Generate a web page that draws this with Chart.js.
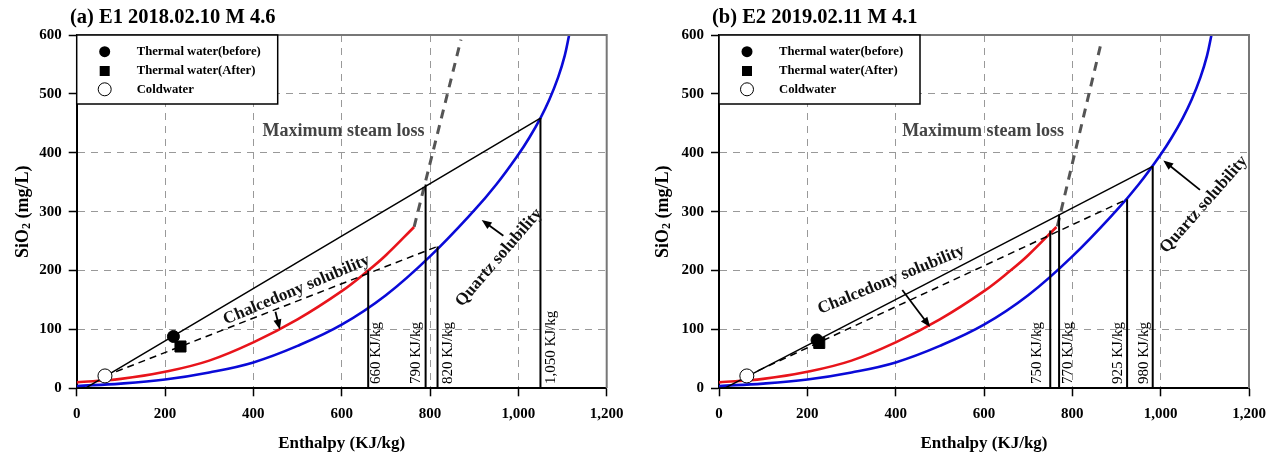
<!DOCTYPE html>
<html><head><meta charset="utf-8">
<script src="https://cdn.jsdelivr.net/npm/chart.js@4.4.0/dist/chart.umd.min.js"></script>
<style>
html,body{margin:0;padding:0;background:#fff;overflow:hidden;}
#wrap{position:relative;width:1277px;height:458px;background:#fff;}
canvas{position:absolute;top:0;}
#ca{left:0;} #cb{left:640px;}
</style></head><body>
<div id="wrap"><canvas id="ca" width="640" height="458"></canvas><canvas id="cb" width="637" height="458"></canvas></div>
<script>
// ---------------- data ----------------
const xTickValues = [0, 200, 400, 600, 800, 1000, 1200];
const xTickLabels = ['0', '200', '400', '600', '800', '1,000', '1,200'];
const yTickValues = [0, 100, 200, 300, 400, 500, 600];
const yTickLabels = ['0', '100', '200', '300', '400', '500', '600'];

const legendLabels = ['Thermal water(before)', 'Thermal water(After)', 'Coldwater'];

// quartz solubility curve (blue)
const quartzEnthalpy = [0, 100, 200, 300, 400, 500, 600, 700, 800, 900, 950, 1000, 1025, 1050, 1070, 1090, 1105, 1115];
const quartzSiO2     = [4, 8, 15, 27, 44, 72, 108, 158, 224, 302, 346, 397, 426, 459, 490, 528, 565, 600];
// chalcedony solubility curve (red)
const chalcEnthalpy = [0, 100, 200, 300, 400, 500, 600, 660, 700, 764];
const chalcSiO2     = [10, 16, 28, 47, 78, 117, 165, 200, 226, 274];

// panel (a)
const aTitle = '(a) E1 2018.02.10 M 4.6';
const aBefore = [219, 88];
const aAfter  = [235, 71];
const aCold   = [64, 21];
const aMixEnthalpy = [19, 1050];
const aMixSiO2     = [0, 459];
const aDilEnthalpy = [64, 817];
const aDilSiO2     = [21, 241];
const aSteamEnthalpy = [764, 870];
const aSteamSiO2     = [274, 592];
const aVertEnthalpy = [660, 790, 817, 1050];
const aVertSiO2     = [200, 346, 241, 459];
const aVertLabels   = ['660 KJ/kg', '790 KJ/kg', '820 KJ/kg', '1,050 KJ/kg'];

// panel (b)
const bTitle = '(b) E2 2019.02.11 M 4.1';
const bBefore = [222, 82];
const bAfter  = [227, 77];
const bCold   = [63, 21];
const bMixEnthalpy = [12, 982];
const bMixSiO2     = [0, 377];
const bDilEnthalpy = [63, 924];
const bDilSiO2     = [21, 321];
const bSteamEnthalpy = [766, 866];
const bSteamSiO2     = [275, 589];
const bVertEnthalpy = [750, 770, 924, 982];
const bVertSiO2     = [268, 295, 321, 377];
const bVertLabels   = ['750 KJ/kg', '770 KJ/kg', '925 KJ/kg', '980 KJ/kg'];

const noteSteam = 'Maximum steam loss';
const noteChalc = 'Chalcedony solubility';
const noteQuartz = 'Quartz solubility';

// ---------------- drawing ----------------
const FONT = "'Liberation Serif','Times New Roman',serif";
const zip = (xs, ys) => xs.map((x, i) => ({x: x, y: ys[i]}));

function drawArrow(ctx, x1, y1, x2, y2) {
  const a = Math.atan2(y2 - y1, x2 - x1), L = 10, W = 4;
  ctx.beginPath(); ctx.moveTo(x1, y1); ctx.lineTo(x2 - 6 * Math.cos(a), y2 - 6 * Math.sin(a)); ctx.stroke();
  ctx.beginPath(); ctx.moveTo(x2, y2);
  ctx.lineTo(x2 - L * Math.cos(a) + W * Math.sin(a), y2 - L * Math.sin(a) - W * Math.cos(a));
  ctx.lineTo(x2 - L * Math.cos(a) - W * Math.sin(a), y2 - L * Math.sin(a) + W * Math.cos(a));
  ctx.closePath(); ctx.fill();
}

function makeDeco(P) {
  return {
    id: 'deco',
    beforeDraw(chart) {
      const c = chart.ctx; c.save(); c.fillStyle = '#fff'; c.fillRect(0, 0, chart.width, chart.height); c.restore();
    },
    afterDraw(chart) {
      const ctx = chart.ctx, xs = chart.scales.x, ys = chart.scales.y, A = chart.chartArea;
      const X = v => xs.getPixelForValue(v), Y = v => ys.getPixelForValue(v);
      ctx.save();
      // frame top/right
      ctx.strokeStyle = '#777'; ctx.lineWidth = 2;
      ctx.beginPath(); ctx.moveTo(A.left, A.top); ctx.lineTo(A.right, A.top); ctx.lineTo(A.right, A.bottom); ctx.stroke();
      // page title
      ctx.fillStyle = '#000'; ctx.font = 'bold 20.5px ' + FONT; ctx.textBaseline = 'alphabetic'; ctx.textAlign = 'left';
      ctx.fillText(P.title, P.titleX, 23);
      // y title with subscript
      ctx.save(); ctx.translate(P.yTitleX, (A.top + A.bottom) / 2); ctx.rotate(-Math.PI / 2);
      const f1 = 'bold 18px ' + FONT, f2 = 'bold 12px ' + FONT;
      ctx.font = f1; const w1 = ctx.measureText('SiO').width, w3 = ctx.measureText(' (mg/L)').width;
      ctx.font = f2; const w2 = ctx.measureText('2').width;
      const x0 = -(w1 + w2 + w3) / 2; ctx.textBaseline = 'middle';
      ctx.font = f1; ctx.fillText('SiO', x0, 0);
      ctx.font = f2; ctx.fillText('2', x0 + w1, 4);
      ctx.font = f1; ctx.fillText(' (mg/L)', x0 + w1 + w2, 0);
      ctx.restore();
      // vertical labels
      ctx.font = '15px ' + FONT; ctx.fillStyle = '#000';
      P.vertE.forEach((e, i) => {
        ctx.save(); ctx.translate(X(e) + P.vertDx[i], 384); ctx.rotate(-Math.PI / 2);
        ctx.textAlign = 'left'; ctx.textBaseline = 'middle'; ctx.fillText(P.vertLabels[i], 0, 0); ctx.restore();
      });
      // notes
      P.notes.forEach(n => {
        ctx.save(); ctx.translate(X(n.e), Y(n.s)); ctx.rotate(-n.rot * Math.PI / 180);
        ctx.font = 'bold ' + n.size + 'px ' + FONT; ctx.fillStyle = n.color;
        ctx.textAlign = 'center'; ctx.textBaseline = n.base || 'middle'; ctx.fillText(n.text, 0, 0); ctx.restore();
      });
      // arrows
      ctx.strokeStyle = '#000'; ctx.fillStyle = '#000'; ctx.lineWidth = 1.8;
      P.arrows.forEach(a => drawArrow(ctx, X(a[0]), Y(a[1]), X(a[2]), Y(a[3])));
      // legend
      const lx = A.left, ly = A.top;
      ctx.fillStyle = '#fff'; ctx.fillRect(lx, ly, 201, 69);
      ctx.strokeStyle = '#000'; ctx.lineWidth = 1.5; ctx.strokeRect(lx, ly, 201, 69);
      const sx = lx + 28, rows = [ly + 16.7, ly + 36, ly + 54.3];
      ctx.fillStyle = '#000';
      ctx.beginPath(); ctx.arc(sx, rows[0], 5.5, 0, Math.PI * 2); ctx.fill();
      ctx.fillRect(sx - 5, rows[1] - 5, 10, 10);
      ctx.beginPath(); ctx.arc(sx, rows[2], 6.5, 0, Math.PI * 2); ctx.fillStyle = '#fff'; ctx.fill(); ctx.lineWidth = 1; ctx.strokeStyle = '#000'; ctx.stroke();
      ctx.fillStyle = '#000'; ctx.font = 'bold 12.7px ' + FONT; ctx.textAlign = 'left'; ctx.textBaseline = 'middle';
      legendLabels.forEach((t, i) => ctx.fillText(t, lx + 60, rows[i]));
      ctx.restore();
    }
  };
}

function build(id, P) {
  const ds = [];
  ds.push({label: legendLabels[0], data: [{x: P.before[0], y: P.before[1]}], pointStyle: 'circle', pointRadius: 6, backgroundColor: '#000', borderColor: '#000', borderWidth: 1});
  ds.push({label: legendLabels[1], data: [{x: P.after[0], y: P.after[1]}], pointStyle: 'rect', pointRadius: 7.8, backgroundColor: '#000', borderColor: '#000', borderWidth: 1});
  ds.push({label: legendLabels[2], data: [{x: P.cold[0], y: P.cold[1]}], pointStyle: 'circle', pointRadius: 7, backgroundColor: '#fff', borderColor: '#000', borderWidth: 1});
  ds.push({label: 'mix', data: zip(P.mixE, P.mixS), showLine: true, pointRadius: 0, borderColor: '#000', borderWidth: 1.5});
  ds.push({label: 'dil', data: zip(P.dilE, P.dilS), showLine: true, pointRadius: 0, borderColor: '#000', borderWidth: 1.5, borderDash: [7, 5]});
  P.vertE.forEach((e, i) => ds.push({label: 'v' + i, data: [{x: e, y: 0}, {x: e, y: P.vertS[i]}], showLine: true, pointRadius: 0, borderColor: '#000', borderWidth: 2}));
  ds.push({label: 'chalcedony', data: zip(chalcEnthalpy, chalcSiO2), showLine: true, pointRadius: 0, borderColor: '#e8141b', borderWidth: 2.6, tension: 0.4});
  ds.push({label: 'quartz', data: zip(quartzEnthalpy, quartzSiO2), showLine: true, pointRadius: 0, borderColor: '#0a0ad8', borderWidth: 2.6, tension: 0.4});
  ds.push({label: 'steam', data: zip(P.steamE, P.steamS), showLine: true, pointRadius: 0, borderColor: '#555', borderWidth: 3, borderDash: [9, 7]});

  const tickFont = {family: FONT, size: 15, weight: 'bold'};
  new Chart(document.getElementById(id), {
    type: 'scatter',
    data: {datasets: ds},
    options: {
      responsive: false, animation: false, events: [],
      layout: {padding: {left: 0, top: 35, right: P.padRight, bottom: 0}},
      plugins: {legend: {display: false}, tooltip: {enabled: false}, title: {display: false}},
      scales: {
        x: {
          type: 'linear', min: 0, max: 1200,
          afterBuildTicks: s => { s.ticks = xTickValues.map(v => ({value: v})); },
          afterFit: s => { s.height = 458 - 388.3; },
          ticks: {callback: (v, i) => xTickLabels[i], font: tickFont, color: '#000', padding: 9, maxRotation: 0, autoSkip: false},
          grid: {color: c => (c.tick && (c.tick.value === 0 || c.tick.value === 1200)) ? 'rgba(0,0,0,0)' : '#999', lineWidth: 1, tickColor: '#000', tickLength: 8, tickWidth: 1.5, tickBorderDash: []},
          border: {display: true, color: '#000', width: 2, dash: [7, 6]},
          title: {display: true, text: 'Enthalpy (KJ/kg)', font: {family: FONT, size: 17, weight: 'bold'}, color: '#000', padding: {top: 0, bottom: 4}}
        },
        y: {
          type: 'linear', min: 0, max: 600,
          afterBuildTicks: s => { s.ticks = yTickValues.map(v => ({value: v})); },
          afterFit: s => { s.width = P.left; },
          ticks: {callback: (v, i) => yTickLabels[i], font: tickFont, color: '#000', padding: 7},
          grid: {color: c => (c.tick && (c.tick.value === 0 || c.tick.value === 600)) ? 'rgba(0,0,0,0)' : '#999', lineWidth: 1, tickColor: '#000', tickLength: 8, tickWidth: 1.5, tickBorderDash: []},
          border: {display: true, color: '#000', width: 2, dash: [7, 6]}
        }
      }
    },
    plugins: [makeDeco(P)]
  });
}

build('ca', {
  title: aTitle, titleX: 70, left: 76.7, padRight: 640 - 606.7, yTitleX: 23,
  before: aBefore, after: aAfter, cold: aCold,
  mixE: aMixEnthalpy, mixS: aMixSiO2, dilE: aDilEnthalpy, dilS: aDilSiO2,
  steamE: aSteamEnthalpy, steamS: aSteamSiO2,
  vertE: aVertEnthalpy, vertS: aVertSiO2, vertLabels: aVertLabels, vertDx: [8, -10, 11, 11],
  notes: [
    {text: noteSteam, e: 604, s: 429, rot: 0, size: 18, color: '#444', base: 'alphabetic'},
    {text: noteChalc, e: 498, s: 167, rot: 22.8, size: 17, color: '#111'},
    {text: noteQuartz, e: 956, s: 222, rot: 49.3, size: 17, color: '#111'}
  ],
  arrows: [[450, 130, 460, 100], [966, 259, 917, 286]]
});

build('cb', {
  title: bTitle, titleX: 72, left: 79, padRight: 637 - 609, yTitleX: 23,
  before: bBefore, after: bAfter, cold: bCold,
  mixE: bMixEnthalpy, mixS: bMixSiO2, dilE: bDilEnthalpy, dilS: bDilSiO2,
  steamE: bSteamEnthalpy, steamS: bSteamSiO2,
  vertE: bVertEnthalpy, vertS: bVertSiO2, vertLabels: bVertLabels, vertDx: [-13, 9, -9, -9],
  notes: [
    {text: noteSteam, e: 598, s: 429, rot: 0, size: 18, color: '#444', base: 'alphabetic'},
    {text: noteChalc, e: 390, s: 184, rot: 22.5, size: 17, color: '#111'},
    {text: noteQuartz, e: 1098, s: 312, rot: 48.7, size: 17, color: '#111'}
  ],
  arrows: [[415, 167, 478, 104], [1089, 337, 1006, 387]]
});
</script>
</body></html>
